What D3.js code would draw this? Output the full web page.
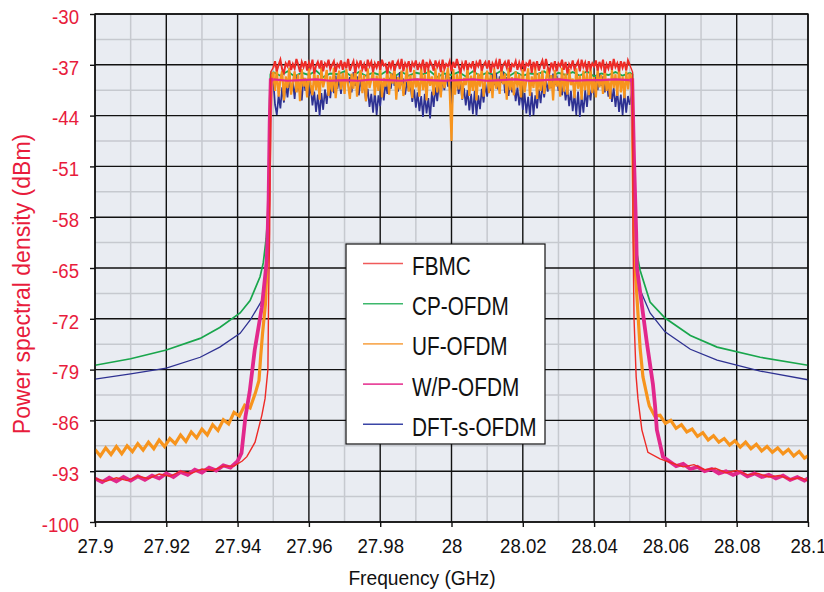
<!DOCTYPE html>
<html><head><meta charset="utf-8">
<script src="https://cdn.jsdelivr.net/npm/d3@7"></script>
<style>
body{margin:0;background:#fff;}
svg{display:block;}
text{font-family:"Liberation Sans",Arial,Helvetica,sans-serif;}
</style>
</head><body>
<svg id="chart" width="824" height="592"></svg>
<script>
// ---------- data ----------
const xTicks = [27.9, 27.92, 27.94, 27.96, 27.98, 28, 28.02, 28.04, 28.06, 28.08, 28.1];
const xTickLabels = ["27.9","27.92","27.94","27.96","27.98","28","28.02","28.04","28.06","28.08","28.1"];
const yTicks = [-30, -37, -44, -51, -58, -65, -72, -79, -86, -93, -100];
const yTickLabels = ["-30","-37","-44","-51","-58","-65","-72","-79","-86","-93","-100"];
const xMinor = [27.91, 27.93, 27.95, 27.97, 27.99, 28.01, 28.03, 28.05, 28.07, 28.09];
const yMinor = [-33.5, -40.5, -47.5, -54.5, -61.5, -68.5, -75.5, -82.5, -89.5, -96.5];
const seriesNames = ["FBMC", "CP-OFDM", "UF-OFDM", "W/P-OFDM", "DFT-s-OFDM"];
const seriesColors = ["#ee2a26", "#19a64c", "#f7941d", "#e2288c", "#2e3192"];
const bandStart = 27.95;

// FBMC (in-band step 0.0005)
const fbmcLeft = [[27.900,-94.0],[27.903,-94.4],[27.906,-93.9],[27.909,-94.3],[27.912,-93.7],[27.915,-94.0],[27.918,-93.4],[27.921,-93.7],[27.924,-93.0],[27.927,-93.3],[27.930,-92.7],[27.933,-92.9],[27.936,-92.3],[27.939,-92.3],[27.9413,-91.6],[27.9426,-91.0],[27.9449,-89.0],[27.9468,-85.3],[27.9477,-83.0],[27.9485,-79.0],[27.9487,-69.0],[27.9490,-60.0],[27.9491,-50.0],[27.9493,-38.0]];
const fbmcBand = [
-37.4,-36.5,-37.9,-37.0,-36.3,-37.6,-38.1,-36.8,-37.2,-36.4,-37.7,-36.9,-37.5,-36.2,-37.0,-38.0,-36.6,-37.3,-36.5,-37.8,
-36.7,-37.4,-36.3,-38.2,-37.1,-36.6,-37.5,-36.4,-37.9,-36.8,-37.2,-36.3,-37.6,-37.0,-36.5,-38.0,-36.9,-37.3,-36.4,-37.7,
-36.6,-37.5,-36.2,-37.8,-37.1,-36.5,-38.1,-36.7,-37.3,-36.4,-37.6,-36.9,-37.9,-36.3,-37.2,-36.6,-38.0,-36.8,-37.4,-36.5,
-37.7,-36.3,-37.1,-36.9,-38.2,-36.6,-37.4,-36.4,-37.8,-37.0,-36.5,-37.6,-36.2,-37.9,-36.8,-37.3,-36.5,-38.0,-36.7,-37.2,
-36.4,-37.7,-36.9,-37.4,-36.3,-38.1,-36.6,-37.5,-36.5,-37.0,-37.8,-36.4,-37.3,-36.7,-38.0,-36.3,-37.6,-36.9,-37.2,-36.5,
-37.9,-36.6,-37.4,-36.2,-37.1,-38.2,-36.8,-37.5,-36.4,-37.7,-36.9,-37.3,-36.5,-38.0,-36.7,-37.2,-36.3,-37.8,-37.0,-36.6,
-37.5,-36.4,-38.1,-36.8,-37.3,-36.5,-37.6,-36.2,-37.9,-37.0,-36.6,-37.4,-36.3,-38.0,-36.9,-37.2,-36.5,-37.7,-36.7,-37.5,
-36.4,-37.9,-36.8,-37.1,-36.3,-38.1,-36.6,-37.4,-36.5,-37.8,-37.0,-36.4,-37.6,-36.2,-37.3,-38.0,-36.7,-37.5,-36.5,-37.9,
-36.8,-37.2,-36.3,-37.7,-36.6,-38.2,-36.9,-37.4,-36.4,-37.6,-37.0,-36.5,-37.9,-36.3,-37.3,-36.7,-38.0,-36.5,-37.5,-36.8,
-37.2,-36.4,-37.8,-36.6,-37.4,-36.3,-38.1,-36.9,-37.5,-36.5,-37.7,-36.2,-37.3,-36.8,-37.9,-36.5,-37.4,-36.6,-37.8,-36.4,
-37.0];
const fbmcRight = [[28.0508,-38.0],[28.0509,-60.0],[28.0512,-72.0],[28.0518,-80.0],[28.0523,-83.0],[28.0534,-87.3],[28.0551,-90.4],[28.0585,-91.3],[28.062,-91.9],[28.065,-92.4],[28.068,-92.1],[28.071,-92.8],[28.074,-92.6],[28.077,-93.2],[28.080,-92.9],[28.083,-93.5],[28.086,-93.3],[28.089,-93.8],[28.092,-93.6],[28.095,-94.1],[28.098,-93.9],[28.1,-94.3]];

// CP-OFDM (in-band step 0.002)
const cpLeft = [[27.900,-78.4],[27.910,-77.5],[27.920,-76.3],[27.9295,-74.7],[27.935,-73.2],[27.9407,-71.2],[27.9435,-69.5],[27.9463,-66.2],[27.9472,-64.3],[27.9480,-61.0],[27.9486,-57.0],[27.9489,-50.0],[27.9490,-42.0],[27.9492,-38.3]];
const cpBand = [-38.0,-38.5,-37.9,-38.6,-38.1,-38.4,-37.8,-38.7,-38.2,-38.3,
-37.9,-38.6,-38.0,-38.5,-38.1,-38.4,-37.8,-38.6,-38.0,-38.5,
-38.1,-38.3,-37.9,-38.7,-38.2,-38.4,-38.0,-38.6,-37.9,-38.5,
-38.1,-38.4,-37.8,-38.6,-38.0,-38.5,-38.2,-38.3,-37.9,-38.7,
-38.1,-38.4,-38.0,-38.5,-37.9,-38.6,-38.2,-38.4,-38.0,-38.5,-38.1];
const cpRight = [[28.0508,-38.3],[28.0510,-45.0],[28.0513,-55.0],[28.0518,-62.5],[28.0529,-65.3],[28.0557,-69.7],[28.0599,-71.9],[28.067,-74.3],[28.0745,-75.9],[28.0866,-77.3],[28.1,-78.4]];

// UF-OFDM (in-band step 0.0005)
const ufLeft = [[27.9000,-90.0],[27.9015,-90.9],[27.9030,-89.8],[27.9045,-90.7],[27.9060,-89.6],[27.9075,-90.6],[27.9090,-89.5],[27.9105,-90.3],[27.9120,-89.2],[27.9135,-90.1],[27.9150,-89.0],[27.9165,-89.9],[27.9180,-88.7],[27.9195,-89.6],[27.9210,-88.5],[27.9225,-89.2],[27.9240,-88.0],[27.9255,-88.9],[27.9270,-87.6],[27.9285,-88.4],[27.9300,-87.2],[27.9315,-88.0],[27.9330,-86.6],[27.9345,-87.4],[27.9360,-85.9],[27.9375,-86.5],[27.9390,-84.9],[27.9405,-85.4],[27.9420,-83.9],[27.9435,-84.3],[27.9450,-82.2],[27.9460,-80.5],[27.9465,-77.0],[27.9470,-74.0],[27.9478,-70.0],[27.9484,-63.0],[27.9488,-55.0],[27.9491,-46.0],[27.9494,-40.0]];
const ufBand = [
-38.0,-40.6,-37.5,-41.4,-39.0,-37.8,-41.9,-38.6,-40.2,-37.4,-41.1,-39.4,-37.9,-40.8,-38.3,-42.0,-37.6,-40.0,-38.8,-41.5,
-37.5,-39.7,-41.2,-37.9,-40.5,-38.4,-41.8,-37.3,-40.1,-39.0,-37.7,-41.3,-38.6,-40.7,-37.4,-41.6,-39.2,-37.8,-40.4,-38.1,
-41.0,-37.6,-39.8,-41.7,-38.2,-40.3,-37.3,-41.4,-38.9,-37.7,-40.9,-38.4,-42.0,-37.5,-40.2,-39.1,-37.9,-41.2,-38.5,-40.6,
-37.4,-41.5,-38.8,-40.0,-37.6,-41.1,-38.2,-39.6,-37.3,-41.8,-38.7,-40.4,-37.8,-41.3,-39.3,-37.5,-40.7,-38.4,-41.6,-37.7,
-40.1,-38.9,-41.4,-37.4,-40.5,-38.3,-41.9,-37.6,-39.9,-38.6,-41.2,-37.5,-40.8,-38.1,-41.5,-37.8,-40.2,-39.0,-37.4,-40.7,
-47.5,
-37.6,-41.1,-38.3,-40.4,-37.5,-41.7,-38.8,-39.8,-37.3,-41.3,-38.5,-40.6,-37.7,-41.9,-38.2,-40.0,-37.4,-41.4,-39.1,-37.8,
-40.9,-38.4,-41.6,-37.5,-40.3,-38.9,-41.0,-37.6,-39.7,-38.2,-41.8,-37.4,-40.5,-38.7,-41.2,-37.9,-40.1,-38.3,-41.5,-37.6,
-40.8,-39.2,-37.5,-41.3,-38.6,-40.2,-37.3,-41.7,-38.1,-40.6,-37.8,-41.0,-39.0,-37.5,-40.4,-38.4,-41.9,-37.7,-40.0,-38.8,
-41.4,-37.4,-40.7,-38.2,-41.1,-37.6,-39.8,-38.9,-41.6,-37.5,-40.3,-38.5,-41.8,-37.8,-40.5,-38.1,-41.2,-37.3,-40.9,-38.7,
-41.5,-37.6,-40.1,-38.4,-41.0,-37.5,-40.6,-38.9,-41.7,-37.7,-40.2,-38.3,-41.3,-37.4,-40.8,-38.6,-41.6,-37.9,-40.4,-38.2];
const ufRight = [[28.0506,-40.0],[28.0509,-50.0],[28.0512,-60.0],[28.0515,-64.9],[28.0529,-76.0],[28.0537,-80.0],[28.0551,-83.2],[28.0555,-84.0],[28.0570,-85.4],[28.0585,-85.3],[28.0600,-86.4],[28.0615,-86.0],[28.0630,-87.1],[28.0645,-86.6],[28.0660,-87.6],[28.0675,-87.2],[28.0690,-88.2],[28.0705,-87.7],[28.0720,-88.7],[28.0735,-88.1],[28.0750,-89.0],[28.0765,-88.5],[28.0780,-89.4],[28.0795,-88.8],[28.0810,-89.7],[28.0825,-89.0],[28.0840,-89.9],[28.0855,-89.3],[28.0870,-90.2],[28.0885,-89.6],[28.0900,-90.4],[28.0915,-89.8],[28.0930,-90.6],[28.0945,-90.0],[28.0960,-90.9],[28.0975,-90.3],[28.0990,-91.2],[28.1000,-90.9]];

// W/P-OFDM (in-band step 0.004)
const wpLeft = [[27.900,-94.0],[27.902,-94.5],[27.904,-93.9],[27.906,-94.4],[27.908,-93.8],[27.910,-94.3],[27.912,-93.7],[27.914,-94.2],[27.916,-93.6],[27.918,-94.0],[27.920,-93.3],[27.922,-93.8],[27.924,-93.1],[27.926,-93.5],[27.928,-92.8],[27.930,-93.2],[27.932,-92.5],[27.934,-92.9],[27.936,-92.2],[27.938,-92.5],[27.940,-91.6],[27.9411,-90.5],[27.9422,-85.5],[27.9434,-82.0],[27.9448,-76.3],[27.9468,-70.4],[27.9482,-63.9],[27.9487,-55.6],[27.9490,-45.0],[27.9493,-39.1]];
const wpBand = [-39.0,-39.2,-39.1,-39.0,-39.2,-39.1,-39.2,-39.0,-39.1,-39.2,
-39.0,-39.1,-39.2,-39.1,-39.0,-39.2,-39.1,-39.0,-39.2,-39.1,
-39.0,-39.2,-39.1,-39.1,-39.0,-39.1];
const wpRight = [[28.0507,-39.1],[28.0512,-50.0],[28.0518,-60.0],[28.0520,-64.9],[28.0548,-75.3],[28.0565,-81.0],[28.0571,-84.0],[28.0576,-87.3],[28.0593,-91.0],[28.0610,-91.6],[28.0630,-92.3],[28.065,-92.0],[28.067,-92.7],[28.069,-92.4],[28.071,-93.0],[28.073,-92.7],[28.075,-93.3],[28.077,-93.0],[28.079,-93.5],[28.081,-93.1],[28.083,-93.7],[28.085,-93.3],[28.087,-93.8],[28.089,-93.5],[28.091,-94.0],[28.093,-93.6],[28.095,-94.2],[28.097,-93.8],[28.099,-94.3],[28.1,-94.0]];

// DFT-s-OFDM (in-band step 0.0005)
const dftLeft = [[27.900,-80.3],[27.910,-79.6],[27.920,-78.8],[27.9295,-77.3],[27.935,-75.9],[27.9407,-74.0],[27.9435,-72.2],[27.9469,-69.4],[27.9477,-67.0],[27.9483,-63.0],[27.9487,-55.0],[27.9490,-46.0],[27.9492,-40.0]];
const dftBand = [
-39.0,-42.5,-43.9,-41.2,-43.0,-40.1,-42.2,-39.6,-41.5,-38.9,-40.8,-39.3,-41.7,-38.6,-40.4,-39.8,-41.9,-38.8,-40.6,-39.2,
-41.3,-40.0,-42.6,-40.7,-43.5,-41.1,-44.0,-40.9,-43.2,-40.4,-42.4,-39.7,-41.6,-39.0,-40.9,-38.5,-40.3,-38.9,-41.0,-38.3,
-40.2,-38.1,-39.6,-38.7,-40.8,-38.0,-39.9,-38.6,-41.2,-39.1,-40.5,-39.6,-42.0,-40.3,-42.8,-41.0,-43.6,-40.6,-43.9,-41.2,
-42.7,-40.1,-41.9,-39.4,-41.0,-38.8,-40.3,-38.2,-39.9,-38.6,-40.7,-38.0,-39.5,-38.9,-41.1,-39.3,-40.6,-39.8,-42.1,-40.4,
-42.9,-40.8,-43.4,-41.3,-44.2,-41.0,-43.7,-41.6,-44.4,-40.7,-42.8,-40.1,-42.0,-39.5,-41.3,-38.9,-40.5,-38.4,-40.0,-38.7,
-44.5,
-38.6,-40.3,-38.9,-41.0,-39.4,-41.8,-40.2,-42.6,-40.5,-43.3,-41.0,-43.8,-40.6,-44.0,-41.2,-43.1,-40.3,-42.2,-39.6,-41.4,
-38.9,-40.6,-38.3,-39.8,-38.1,-40.4,-38.6,-39.5,-38.0,-40.9,-38.7,-41.3,-39.2,-40.8,-39.7,-42.0,-40.1,-42.6,-40.5,-43.2,
-40.9,-43.7,-41.4,-44.1,-40.8,-43.9,-41.2,-43.0,-40.4,-42.3,-39.7,-41.5,-39.1,-40.7,-38.6,-40.2,-38.2,-39.8,-38.5,-40.6,
-38.9,-41.2,-39.5,-41.9,-40.1,-42.7,-40.6,-43.4,-41.0,-43.9,-40.7,-44.2,-41.3,-43.6,-40.5,-42.8,-40.0,-41.9,-39.3,-41.1,
-38.7,-40.5,-38.2,-39.9,-38.6,-40.8,-39.1,-41.4,-39.6,-42.1,-40.2,-42.8,-40.6,-43.5,-41.1,-43.9,-40.8,-43.6,-41.3,-42.5];
const dftRight = [[28.0508,-40.0],[28.0509,-50.0],[28.0513,-60.0],[28.0518,-65.3],[28.0529,-68.0],[28.0557,-71.2],[28.0599,-73.8],[28.067,-76.2],[28.0745,-77.7],[28.0866,-79.2],[28.1,-80.4]];

// ---------- layout ----------
const M = {left: 95, top: 14, right: 808, bottom: 522};
const svg = d3.select("#chart");
const x = d3.scaleLinear().domain([27.9, 28.1]).range([M.left, M.right]);
const y = d3.scaleLinear().domain([-100, -30]).range([M.bottom, M.top]);
const RED = "#e81c3c";

function squeeze(sel, k) {
  sel.each(function () {
    const w = this.getComputedTextLength();
    this.setAttribute("textLength", (w * k).toFixed(2));
    this.setAttribute("lengthAdjust", "spacingAndGlyphs");
  });
}

// background
svg.append("rect").attr("x", M.left).attr("y", M.top)
  .attr("width", M.right - M.left).attr("height", M.bottom - M.top)
  .attr("fill", "#e9ecf2");

// minor grid
const grid = svg.append("g");
grid.selectAll(".vmin").data(xMinor).join("line")
  .attr("x1", d => x(d)).attr("x2", d => x(d)).attr("y1", M.top).attr("y2", M.bottom)
  .attr("stroke", "#c6c9cf").attr("stroke-width", 1.5);
grid.selectAll(".hmin").data(yMinor).join("line")
  .attr("x1", M.left).attr("x2", M.right).attr("y1", d => y(d)).attr("y2", d => y(d))
  .attr("stroke", "#c6c9cf").attr("stroke-width", 1.5);
// major grid
grid.selectAll(".vmaj").data(xTicks).join("line")
  .attr("x1", d => x(d)).attr("x2", d => x(d)).attr("y1", M.top).attr("y2", M.bottom)
  .attr("stroke", "#111").attr("stroke-width", 1.4);
grid.selectAll(".hmaj").data(yTicks).join("line")
  .attr("x1", M.left).attr("x2", M.right).attr("y1", d => y(d)).attr("y2", d => y(d))
  .attr("stroke", "#111").attr("stroke-width", 1.4);

// clip
svg.append("clipPath").attr("id", "clip").append("rect")
  .attr("x", M.left).attr("y", M.top).attr("width", M.right - M.left).attr("height", M.bottom - M.top);

const line = d3.line().x(d => x(d[0])).y(d => y(d[1]));
function bandPoints(vals, step) { return vals.map((v, i) => [bandStart + i * step, v]); }

// drawing order: green, blue, orange, magenta, red
const series = [
  {i: 1, left: cpLeft, band: cpBand, step: 0.002, right: cpRight, bw: 1.8, tw: 1.7},
  {i: 4, left: dftLeft, band: dftBand, step: 0.0005, right: dftRight, bw: 1.7, tw: 1.3},
  {i: 2, left: ufLeft, band: ufBand, step: 0.0005, right: ufRight, bw: 2.2, tw: 3.2},
  {i: 3, left: wpLeft, band: wpBand, step: 0.004, right: wpRight, bw: 2.2, tw: 3.8},
  {i: 0, left: fbmcLeft, band: fbmcBand, step: 0.0005, right: fbmcRight, bw: 2.0, tw: 1.4}
];
const plot = svg.append("g").attr("clip-path", "url(#clip)");
series.forEach(s => {
  const bp = bandPoints(s.band, s.step);
  const col = seriesColors[s.i];
  plot.append("path").attr("d", line(s.left.concat([bp[0]])))
    .attr("fill", "none").attr("stroke", col).attr("stroke-width", s.tw).attr("stroke-linejoin", "miter");
  plot.append("path").attr("d", line([bp[bp.length - 1]].concat(s.right)))
    .attr("fill", "none").attr("stroke", col).attr("stroke-width", s.tw).attr("stroke-linejoin", "miter");
  plot.append("path").attr("d", line(bp))
    .attr("fill", "none").attr("stroke", col).attr("stroke-width", s.bw).attr("stroke-linejoin", "miter");
});

// frame
svg.append("rect").attr("x", M.left).attr("y", M.top)
  .attr("width", M.right - M.left).attr("height", M.bottom - M.top)
  .attr("fill", "none").attr("stroke", "#111").attr("stroke-width", 1.4);

// axes
const yAxis = svg.append("g").attr("transform", `translate(${M.left},0)`)
  .call(d3.axisLeft(y).tickValues(yTicks).tickSize(5).tickPadding(11).tickFormat((d, i) => yTickLabels[i]));
yAxis.select(".domain").remove();
yAxis.selectAll("line").attr("stroke", "#111").attr("stroke-width", 1.4);
yAxis.selectAll("text").attr("fill", RED).attr("font-size", 20).attr("dy", "0.46em")
  .style("font-family", '"Liberation Sans", Arial, sans-serif').call(squeeze, 0.93);

const xAxis = svg.append("g").attr("transform", `translate(0,${M.bottom})`)
  .call(d3.axisBottom(x).tickValues(xTicks).tickSize(5).tickPadding(12).tickFormat((d, i) => xTickLabels[i]));
xAxis.select(".domain").remove();
xAxis.selectAll("line").attr("stroke", "#111").attr("stroke-width", 1.4);
xAxis.selectAll("text").attr("fill", "#111").attr("font-size", 20)
  .style("font-family", '"Liberation Sans", Arial, sans-serif').call(squeeze, 0.93);

// titles
svg.append("text").attr("x", 422).attr("y", 585).attr("text-anchor", "middle")
  .attr("font-size", 20).attr("fill", "#111").text("Frequency (GHz)").call(squeeze, 0.96);
svg.append("text").attr("transform", "translate(30,284) rotate(-90)").attr("text-anchor", "middle")
  .attr("font-size", 23).attr("fill", RED).text("Power spectral density (dBm)");

// legend
const lg = svg.append("g");
lg.append("rect").attr("x", 346).attr("y", 244).attr("width", 199).attr("height", 200)
  .attr("fill", "#fff").attr("stroke", "#111").attr("stroke-width", 1.2);
const legendColors = ["#f05a5a", "#3db86c", "#f8ad5a", "#e8489c", "#3a45a6"];
seriesNames.forEach((n, k) => {
  const yy = 263.5 + k * 40.2;
  lg.append("line").attr("x1", 363).attr("x2", 403).attr("y1", yy).attr("y2", yy)
    .attr("stroke", legendColors[k]).attr("stroke-width", 1.6);
  lg.append("text").attr("x", 412).attr("y", yy + 11.5).attr("font-size", 25).attr("fill", "#111")
    .text(n).call(squeeze, 0.83);
});
</script>
</body></html>
